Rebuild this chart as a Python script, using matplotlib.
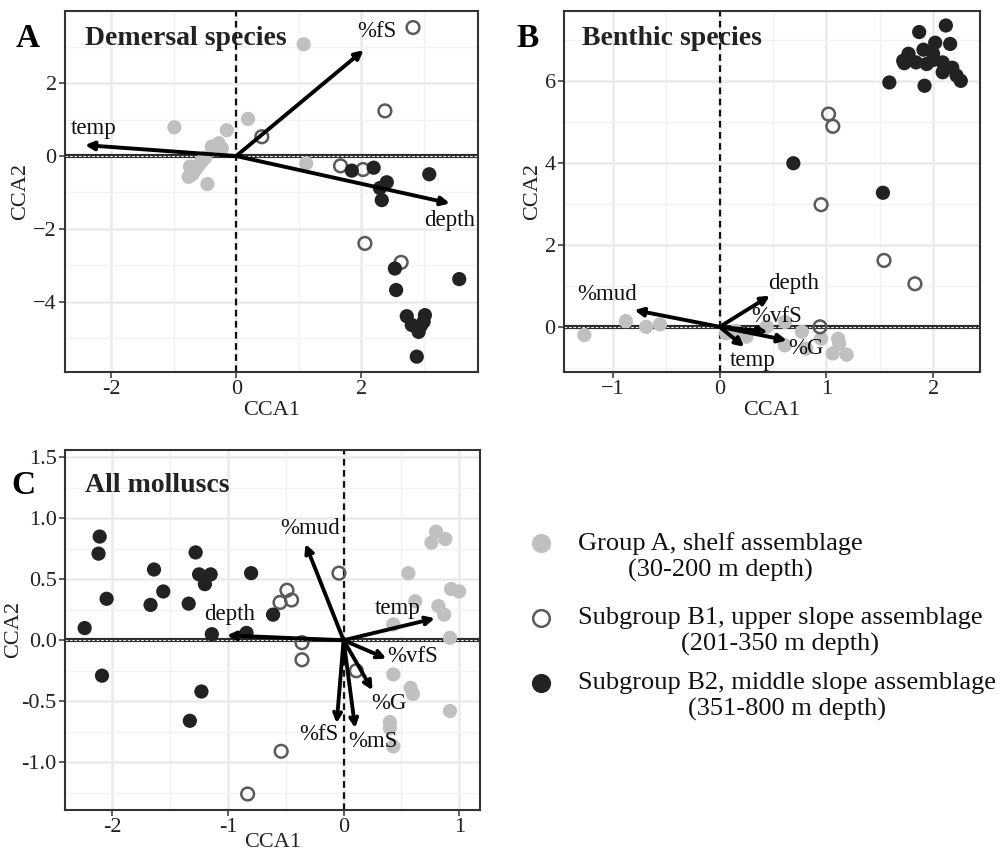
import numpy as np
import matplotlib
matplotlib.use("Agg")
import matplotlib.pyplot as plt
from matplotlib.ticker import MultipleLocator, FixedLocator
from matplotlib.lines import Line2D

plt.rcParams["font.family"] = ["Liberation Serif", "DejaVu Serif"]
plt.rcParams["axes.unicode_minus"] = False

####### Panel A - Demersal species (site scores)
a_grp_x = [1.08, -0.99, 0.19, -0.15, -0.39, -0.28, -0.23, 1.12, -0.46, -0.74, -0.76,
           -0.68, -0.60, -0.55, -0.70, -0.64, -0.50]
a_grp_y = [3.07, 0.79, 1.02, 0.71, 0.26, 0.35, 0.21, -0.20, -0.77, -0.29, -0.57,
           -0.43, -0.25, -0.14, -0.50, -0.35, -0.05]
a_b1_x = [2.83, 2.38, 0.41, 1.67, 2.03, 2.06, 2.64]
a_b1_y = [3.53, 1.24, 0.53, -0.27, -0.37, -2.40, -2.92]
a_b2_x = [1.85, 2.20, 2.41, 2.30, 2.33, 3.09, 2.54, 2.56, 3.57, 2.73, 2.81, 2.92, 3.00,
          3.02, 2.89, 2.96]
a_b2_y = [-0.40, -0.32, -0.72, -0.88, -1.21, -0.50, -3.09, -3.68, -3.38, -4.40, -4.64,
          -4.83, -4.55, -4.37, -5.51, -4.65]
a_env = ["temp", "%fS", "depth"]
a_env_x = [-2.42, 2.04, 3.42]
a_env_y = [0.30, 2.91, -1.30]
a_lab_x = [-2.28, 2.25, 3.42]
a_lab_y = [0.76, 3.41, -1.76]

####### Panel B - Benthic species
b_grp_x = [-1.27, -0.88, -0.69, -0.56, 0.06, 0.25, 0.61, 0.61, 0.77, 0.95, 1.11, 1.12,
           1.06, 1.19, 0.81, 0.44, 0.15]
b_grp_y = [-0.20, 0.14, 0.00, 0.06, -0.16, -0.24, 0.12, -0.45, -0.12, -0.29, -0.29,
           -0.41, -0.65, -0.68, -0.53, 0.00, -0.10]
b_b1_x = [1.02, 1.06, 0.95, 1.54, 1.83, 0.94]
b_b1_y = [5.19, 4.89, 2.98, 1.62, 1.05, 0.00]
b_b2_x = [0.69, 1.53, 1.59, 1.87, 2.12, 2.02, 2.16, 1.91, 2.00, 1.77, 1.72, 1.73, 1.84,
          1.94, 2.09, 2.09, 2.18, 2.22, 2.26, 1.92, 2.00]
b_b2_y = [3.99, 3.27, 5.96, 7.19, 7.35, 6.93, 6.90, 6.76, 6.66, 6.66, 6.49, 6.43, 6.45,
          6.41, 6.45, 6.21, 6.32, 6.13, 6.00, 5.88, 6.51]
b_env = ["%mud", "depth", "%vfS", "%G", "temp"]
b_env_x = [-0.80, 0.47, 0.45, 0.63, 0.23]
b_env_y = [0.41, 0.76, -0.12, -0.33, -0.49]
b_lab_x = [-1.06, 0.69, 0.53, 0.81, 0.31]
b_lab_y = [0.78, 1.06, 0.25, -0.53, -0.82]

####### Panel C - All molluscs
c_grp_x = [0.80, 0.76, 0.88, 0.56, 0.93, 1.00, 0.62, 0.82, 0.87, 0.43, 0.92, 0.43, 0.58,
           0.60, 0.92, 0.40, 0.40, 0.43]
c_grp_y = [0.89, 0.80, 0.83, 0.55, 0.42, 0.40, 0.32, 0.28, 0.21, 0.13, 0.02, -0.28,
           -0.39, -0.44, -0.58, -0.67, -0.72, -0.87]
c_b1_x = [-0.04, -0.55, -0.49, -0.45, -0.36, -0.36, 0.11, -0.54, -0.83]
c_b1_y = [0.55, 0.31, 0.41, 0.33, -0.02, -0.16, -0.25, -0.91, -1.26]
c_b2_x = [-2.11, -2.12, -2.05, -2.24, -2.09, -1.64, -1.56, -1.67, -1.28, -1.25, -1.15,
          -1.20, -1.34, -0.80, -0.61, -1.14, -0.84, -1.23, -1.33]
c_b2_y = [0.85, 0.71, 0.34, 0.10, -0.29, 0.58, 0.40, 0.29, 0.72, 0.54, 0.54, 0.46, 0.30,
          0.55, 0.21, 0.05, 0.06, -0.42, -0.66]
c_env = ["%mud", "depth", "temp", "%vfS", "%G", "%fS", "%mS"]
c_env_x = [-0.33, -1.01, 0.79, 0.37, 0.25, -0.06, 0.10]
c_env_y = [0.79, 0.04, 0.18, -0.15, -0.41, -0.68, -0.72]
c_lab_x = [-0.29, -0.99, 0.47, 0.60, 0.39, -0.21, 0.25]
c_lab_y = [0.92, 0.21, 0.26, -0.13, -0.52, -0.77, -0.83]

legend_labels = ["Group A, shelf assemblage\n(30-200 m depth)",
                 "Subgroup B1, upper slope assemblage\n(201-350 m depth)",
                 "Subgroup B2, middle slope assemblage\n(351-800 m depth)"]

col_a = "#c0c0c0"
col_b1 = "#5a5a5a"
col_b2 = "#222222"
ms = 105


def panel(ax, gx, gy, b1x, b1y, b2x, b2y, env, ex, ey, lx, ly, xlim, ylim,
          xmaj, xmin, ymaj, ymin, xticklab=None, yticklab=None, head="-|>"):
    ax.set_xlim(xlim)
    ax.set_ylim(ylim)
    ax.xaxis.set_major_locator(FixedLocator(xmaj))
    ax.yaxis.set_major_locator(FixedLocator(ymaj))
    ax.xaxis.set_minor_locator(MultipleLocator(xmin))
    ax.yaxis.set_minor_locator(MultipleLocator(ymin))
    if xticklab is not None:
        ax.set_xticklabels(xticklab)
    if yticklab is not None:
        ax.set_yticklabels(yticklab)
    ax.grid(which="major", color="#ebebeb", lw=1.8, zorder=0)
    ax.grid(which="minor", color="#f2f2f2", lw=1.0, zorder=0)
    ax.set_axisbelow(True)
    for s in ax.spines.values():
        s.set_color("#333333")
        s.set_linewidth(1.5)
    ax.tick_params(which="major", length=4, width=1.1, colors="#333333",
                   labelsize=16, labelcolor="#222222", pad=2)
    ax.tick_params(which="minor", length=0)

    # zero lines
    ax.axhline(0, color="#2a2a2a", lw=3.0, zorder=1)
    ax.axhline(0, color="#e8e8e8", lw=0.8, ls=(0, (2.5, 1.5)), zorder=1.1)
    ax.axvline(0, color="#111111", lw=1.6, ls=(0, (3, 2)), zorder=1.2)

    ax.scatter(gx, gy, s=ms, color=col_a, edgecolor="none", zorder=2)
    ax.scatter(b1x, b1y, s=ms * 0.8, facecolor="none", edgecolor=col_b1, lw=1.8, zorder=2)
    ax.scatter(b2x, b2y, s=ms, color=col_b2, edgecolor="none", zorder=2)

    for name, x, y, tx, ty in zip(env, ex, ey, lx, ly):
        ax.annotate("", xy=(x, y), xytext=(0, 0),
                    arrowprops=dict(arrowstyle=head + ",head_length=0.5,head_width=0.25",
                                    color="black", lw=2.8, shrinkA=0, shrinkB=0),
                    zorder=3)
        ax.text(tx, ty, name, ha="center", va="center", fontsize=16.5, color="#111111",
                zorder=4)

    ax.set_xlabel("CCA1", fontsize=16, color="#222222", labelpad=1)
    ax.set_ylabel("CCA2", fontsize=16, color="#222222", labelpad=2)


fig = plt.figure(figsize=(10, 8.57), dpi=100)

axA = fig.add_axes([0.065, 0.566, 0.413, 0.421])
panel(axA, a_grp_x, a_grp_y, a_b1_x, a_b1_y, a_b2_x, a_b2_y, a_env, a_env_x, a_env_y,
      a_lab_x, a_lab_y, (-2.74, 3.87), (-5.93, 3.98), [-2, 0, 2], 1, [-4, -2, 0, 2], 1,
      xticklab=["-2", "0", "2"], yticklab=["\u22124", "\u22122", "0", "2"])

axB = fig.add_axes([0.564, 0.566, 0.416, 0.421])
panel(axB, b_grp_x, b_grp_y, b_b1_x, b_b1_y, b_b2_x, b_b2_y, b_env, b_env_x, b_env_y,
      b_lab_x, b_lab_y, (-1.46, 2.44), (-1.10, 7.70), [-1, 0, 1, 2], 0.5, [0, 2, 4, 6], 1,
      xticklab=["\u22121", "0", "1", "2"])

axC = fig.add_axes([0.065, 0.055, 0.415, 0.420])
panel(axC, c_grp_x, c_grp_y, c_b1_x, c_b1_y, c_b2_x, c_b2_y, c_env, c_env_x, c_env_y,
      c_lab_x, c_lab_y, (-2.41, 1.18), (-1.39, 1.56), [-2, -1, 0, 1], 0.5,
      [-1.0, -0.5, 0.0, 0.5, 1.0, 1.5], 0.25,
      xticklab=["-2", "-1", "0", "1"],
      yticklab=["-1.0", "-0.5", "0.0", "0.5", "1.0", "1.5"], head="->")
axC.set_xlabel("CCA1", fontsize=16, color="#222222", labelpad=-3)
axC.set_ylabel("CCA2", fontsize=16, color="#222222", labelpad=-1)

# panel letters and titles
fig.text(0.028, 0.955, "A", fontsize=24, fontweight="bold", va="center", ha="center")
fig.text(0.085, 0.955, "Demersal species", fontsize=20, fontweight="bold", va="center",
         color="#222222")
fig.text(0.528, 0.955, "B", fontsize=24, fontweight="bold", va="center", ha="center")
fig.text(0.582, 0.955, "Benthic species", fontsize=20, fontweight="bold", va="center",
         color="#222222")
fig.text(0.023, 0.434, "C", fontsize=24, fontweight="bold", va="center", ha="center")
fig.text(0.085, 0.434, "All molluscs", fontsize=20, fontweight="bold", va="center",
         color="#222222")

# legend
leg_y = [0.350, 0.263, 0.187]
leg_face = [col_a, "none", col_b2]
leg_edge = [col_a, col_b1, col_b2]
for lab, y, fc, ec in zip(legend_labels, leg_y, leg_face, leg_edge):
    fig.lines.append(Line2D([0.541], [y + 0.016], transform=fig.transFigure, marker="o",
                            markersize=12, linestyle="none", markerfacecolor=fc,
                            markeredgecolor=ec, markeredgewidth=1.8))
    fig.text(0.578, y, lab, fontsize=19, va="center", ha="left",
             multialignment="center", color="#111111", linespacing=1.2)

fig.savefig("out.png", dpi=100)
